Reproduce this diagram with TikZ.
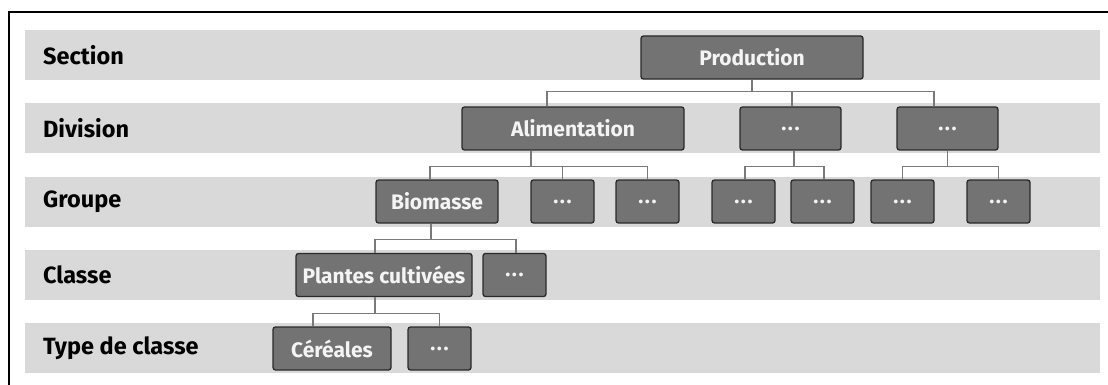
\documentclass[tikz,border=0pt]{standalone}
\usepackage{fontspec}
\setmainfont{Fira Sans}
\definecolor{band}{HTML}{D9D9D9}
\definecolor{boxfill}{HTML}{737373}
\definecolor{boxline}{HTML}{2A2A2A}
\definecolor{conn}{HTML}{7A7A7A}
\definecolor{boxtext}{HTML}{F4F4F4}
\newcommand{\dts}{.\kern1.5pt.\kern1.5pt.}
\tikzset{
  lvl/.style={anchor=west, inner sep=0pt, font=\bfseries\fontsize{23.5}{26}\selectfont, text=black},
  box/.style={draw=boxline, fill=boxfill, line width=1.3pt, rounded corners=2.5pt,
    minimum height=43pt, inner sep=0pt, text=boxtext, font=\fontsize{21}{23}\selectfont\bfseries},
  conn/.style={draw=conn, line width=1.2pt},
}
\begin{document}
\begin{tikzpicture}[x=1pt,y=-1pt]
\useasboundingbox (0,0) rectangle (1108,385);
% frame
\draw[line width=2pt] (9,385) -- (9,12) -- (1108,12);
% bands
\foreach \t in {30,103,177,250,323}{
  \fill[band] (25,\t) rectangle (1100,\t+50);
}
% level labels
\node[lvl] (lsec) at (43,55) {Section};
\node[lvl] (ldiv) at (43,128) {Division};
\node[lvl] (lgrp) at (43,202) {Groupe};
\node[lvl] (lcla) at (43,275) {Classe};
\node[lvl] (ltyp) at (43,348) {Type de classe};
% nodes
\node[box, minimum width=222pt] (prod) at (752,57.5) {Production};
\node[box, minimum width=222pt] (alim) at (573,128.5) {Alimentation};
\node[box, minimum width=101pt] (d2) at (790.5,128.5) {\dts};
\node[box, minimum width=101pt] (d3) at (947.5,128.5) {\dts};
\node[box, minimum width=122pt] (bio) at (437,201.5) {Biomasse};
\node[box, minimum width=63pt] (g2) at (562.5,201.5) {\dts};
\node[box, minimum width=63pt] (g3) at (647.5,201.5) {\dts};
\node[box, minimum width=63pt] (g4) at (743.5,201.5) {\dts};
\node[box, minimum width=63pt] (g5) at (822.5,201.5) {\dts};
\node[box, minimum width=63pt] (g6) at (902.5,201.5) {\dts};
\node[box, minimum width=63pt] (g7) at (998.5,201.5) {\dts};
\node[box, minimum width=176pt] (pla) at (384,275) {Plantes cultivées};
\node[box, minimum width=63pt] (c2) at (514.5,275) {\dts};
\node[box, minimum width=118pt] (cer) at (332,348.5) {Céréales};
\node[box, minimum width=63pt] (t2) at (439.5,348.5) {\dts};
% connectors
\draw[conn] (prod.south) -- ++(0,12) coordinate (b1);
\draw[conn] ([xshift=-26pt]alim.north) |- (b1) -| ([xshift=-13.5pt]d3.north);
\draw[conn] ([xshift=1.5pt]d2.north) -- ([xshift=1.5pt]d2.north |- b1);
% groupe buses
\draw[conn] ([xshift=-42pt]alim.south) -- ++(0,16) coordinate (b2);
\draw[conn] ([xshift=-7pt]bio.north) |- (b2) -| (g3.north);
\draw[conn] (g2.north) -- (g2.north |- b2);
\draw[conn] ([xshift=3.5pt]d2.south) -- ++(0,16) coordinate (b3);
\draw[conn] ([xshift=1.5pt]g4.north) |- (b3) -| ([xshift=1.5pt]g5.north);
\draw[conn] (d3.south) -- ++(0,16) coordinate (b4);
\draw[conn] (g6.north) |- (b4) -| (g7.north);
% classe bus
\draw[conn] ([xshift=-6pt]bio.south) -- ++(0,16) coordinate (b5);
\draw[conn] ([xshift=-9pt]pla.north) |- (b5) -| ([xshift=1.5pt]c2.north);
% type bus
\draw[conn] ([xshift=-9pt]pla.south) -- ++(0,16) coordinate (b6);
\draw[conn] ([xshift=-19pt]cer.north) |- (b6) -| (t2.north);
\end{tikzpicture}
\end{document}
